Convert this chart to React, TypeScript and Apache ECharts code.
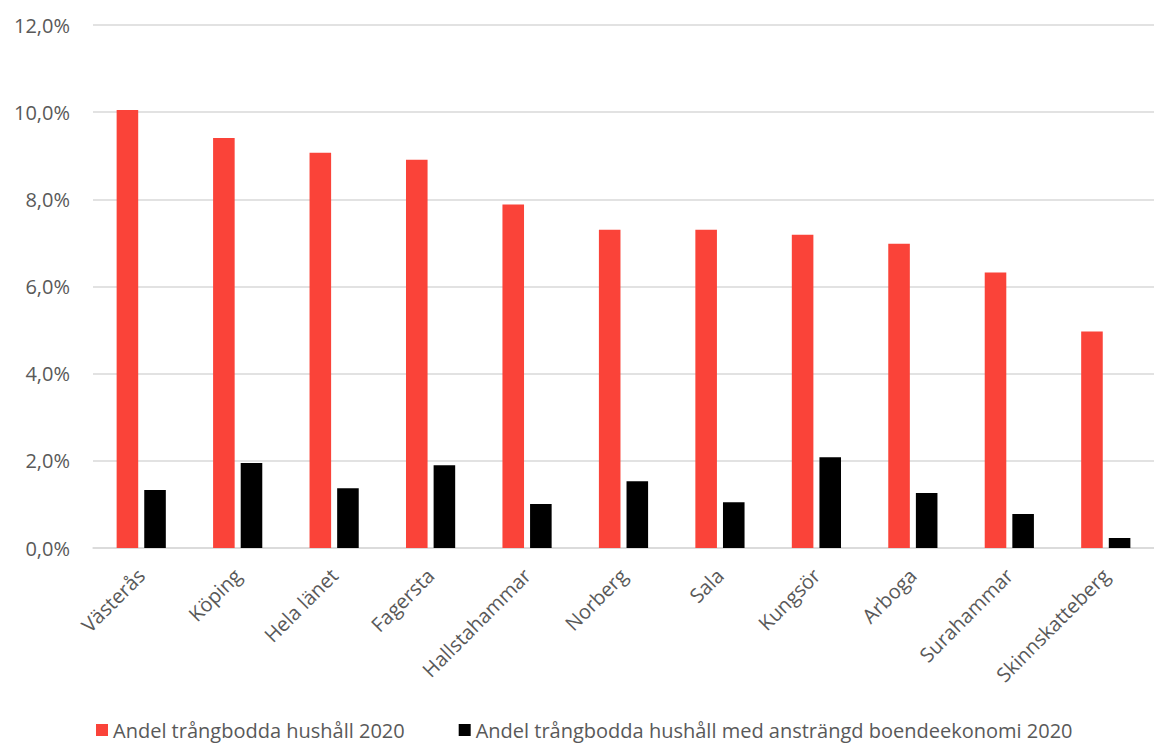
import React, { useEffect, useRef } from "react";
import * as echarts from "echarts";

const categories = [
  "Västerås",
  "Köping",
  "Hela länet",
  "Fagersta",
  "Hallstahammar",
  "Norberg",
  "Sala",
  "Kungsör",
  "Arboga",
  "Surahammar",
  "Skinnskatteberg",
];

const crowdedShare = [10.05, 9.41, 9.07, 8.91, 7.88, 7.3, 7.3, 7.19, 6.98, 6.32, 4.97];
const crowdedStrainedShare = [1.33, 1.95, 1.37, 1.9, 1.01, 1.53, 1.05, 2.08, 1.26, 0.78, 0.23];

const seriesNames = [
  "Andel trångbodda hushåll 2020",
  "Andel trångbodda hushåll med ansträngd boendeekonomi 2020",
];

const FONT = "'Open Sans', 'Noto Sans', sans-serif";
const TEXT = "#595959";

export default function App() {
  const ref = useRef<HTMLDivElement>(null);

  useEffect(() => {
    if (!ref.current) return;
    const chart = echarts.init(ref.current, undefined, { renderer: "svg" });
    const pct = (v: number) => v.toFixed(1).replace(".", ",") + "%";
    chart.setOption({
      animation: false,
      backgroundColor: "#ffffff",
      textStyle: { fontFamily: FONT },
      grid: { left: 93, right: -13, top: 25, bottom: 196, containLabel: false },
      legend: {
        left: 96,
        top: 720,
        padding: 0,
        itemWidth: 12,
        itemHeight: 12,
        itemGap: 54,
        icon: "rect",
        textStyle: { fontFamily: FONT, fontSize: 20, lineHeight: 20, color: TEXT },
        data: seriesNames,
      },
      xAxis: {
        type: "category",
        data: categories,
        axisLine: { lineStyle: { color: "#d9d9d9", width: 1.5 } },
        axisTick: { show: false },
        axisLabel: {
          rotate: 45,
          margin: 24,
          interval: 0,
          color: TEXT,
          fontFamily: FONT,
          fontSize: 20,
        },
      },
      yAxis: {
        type: "value",
        min: 0,
        max: 12,
        interval: 2,
        axisLine: { show: false },
        axisTick: { show: false },
        splitLine: { lineStyle: { color: "#d9d9d9", width: 1.5 } },
        axisLabel: {
          margin: 23,
          color: TEXT,
          fontFamily: FONT,
          fontSize: 20,
          formatter: pct,
        },
      },
      series: [
        {
          name: seriesNames[0],
          type: "bar",
          data: crowdedShare,
          itemStyle: { color: "#fa4339" },
          barGap: "28%",
          barCategoryGap: "49%",
        },
        {
          name: seriesNames[1],
          type: "bar",
          data: crowdedStrainedShare,
          itemStyle: { color: "#000000" },
        },
      ],
    });
    return () => chart.dispose();
  }, []);

  return (
    <div
      ref={ref}
      style={{ position: "fixed", left: 0, top: 0, width: 1154, height: 744 }}
    />
  );
}
